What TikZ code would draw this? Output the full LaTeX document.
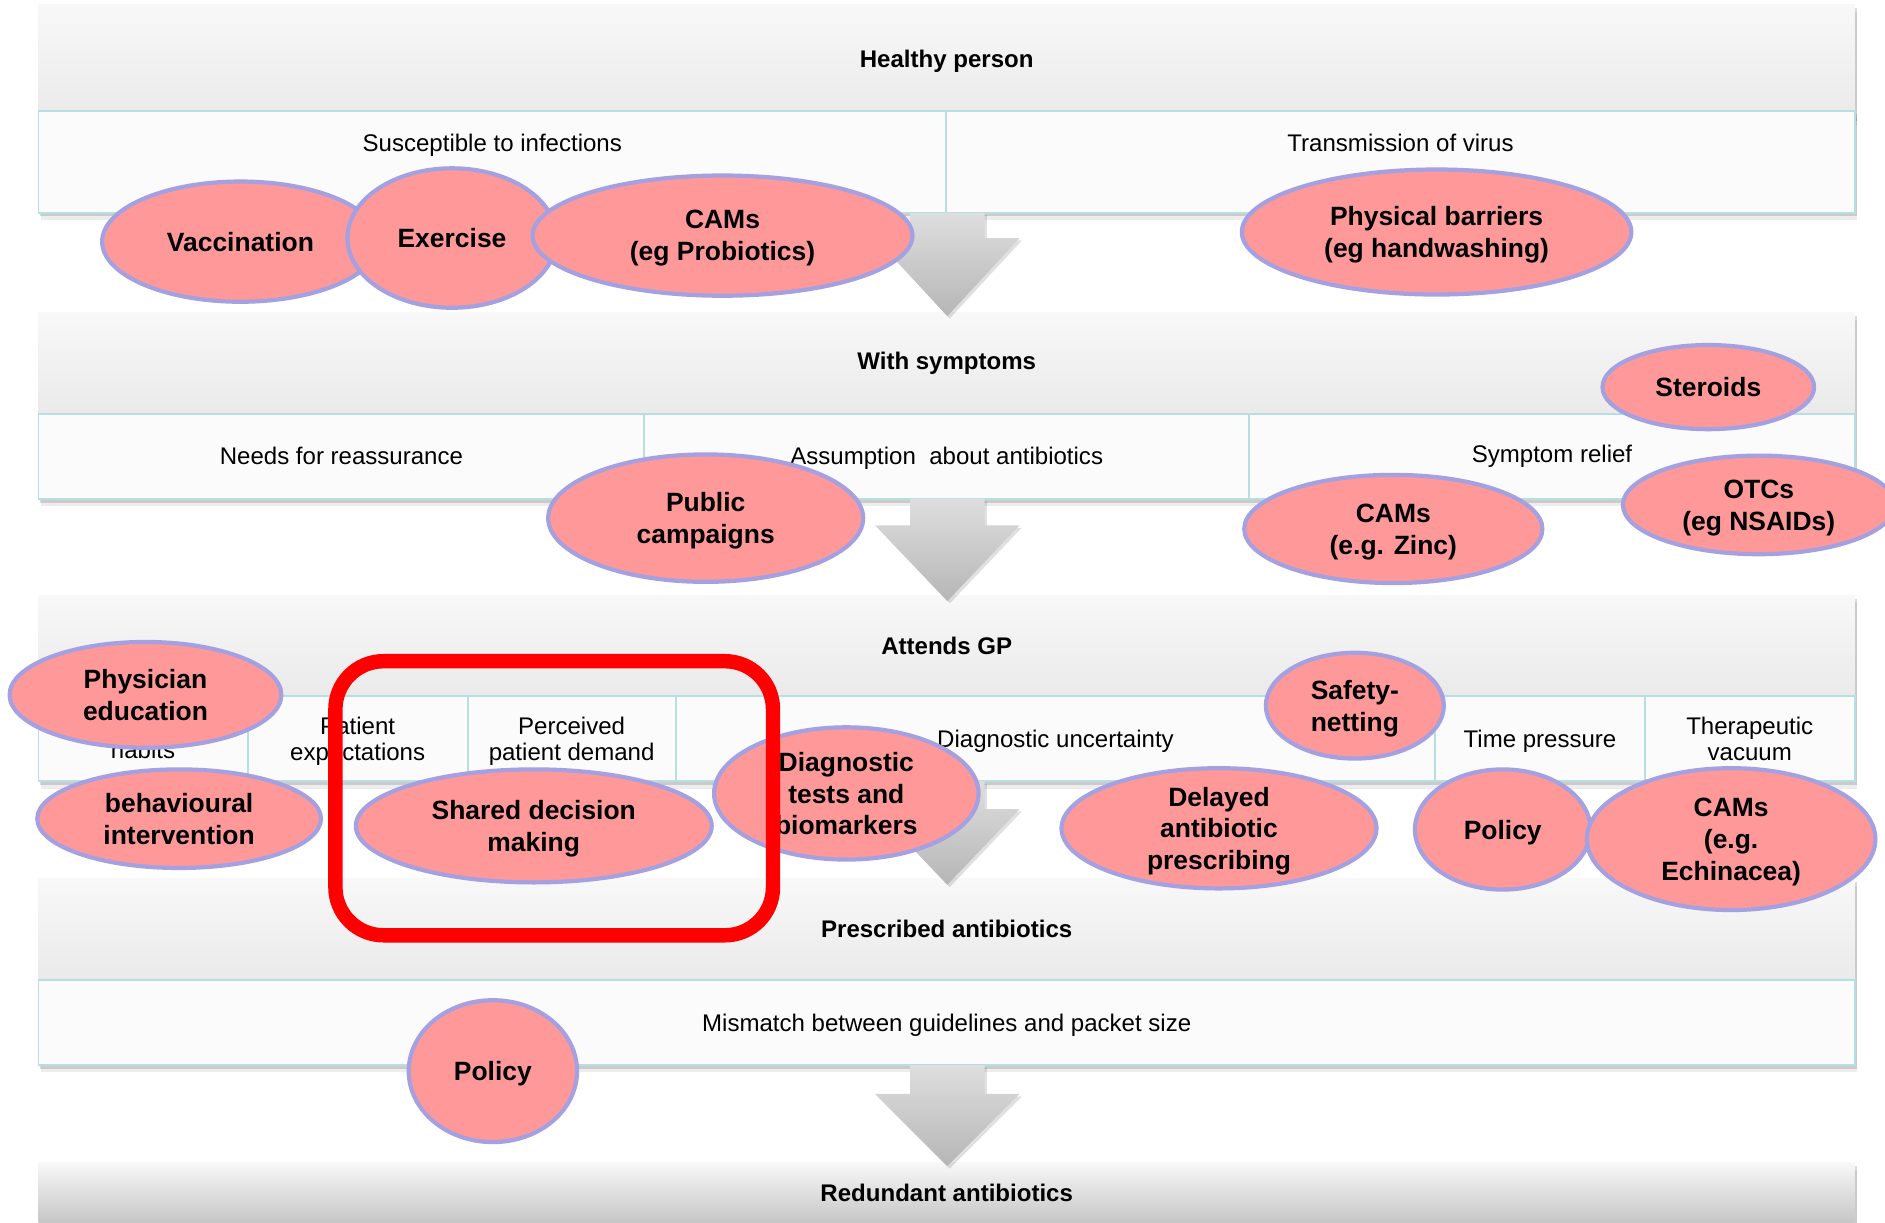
\documentclass[tikz,border=0pt]{standalone}
\usepackage{fontspec}
\setmainfont{Liberation Sans}
\usetikzlibrary{shapes.geometric,shadows,positioning}

\definecolor{bandtop}{HTML}{F8F8F8}
\definecolor{bandbot}{HTML}{EAEAEA}
\definecolor{lastbot}{HTML}{C6C6C6}
\definecolor{cellfill}{HTML}{FBFBFB}
\definecolor{cellline}{HTML}{B7DEE1}
\definecolor{ovalfill}{HTML}{FF9999}
\definecolor{ovalline}{HTML}{A5A0E0}
\definecolor{arrowtop}{HTML}{DEDEDE}
\definecolor{arrowbot}{HTML}{B6B6B6}

\tikzset{
    softshadow/.style={
        drop shadow={shadow xshift=1.5pt, shadow yshift=-3pt, fill=black, opacity=.14},
        drop shadow={shadow xshift=2pt, shadow yshift=-6pt, fill=black, opacity=.07}
    },
    head/.style={rectangle, top color=bandtop, bottom color=bandbot, softshadow,
        minimum width=1511, inner sep=0pt, font=\fontsize{20}{21}\selectfont\bfseries},
    cell/.style={rectangle, draw=cellline, line width=1.6pt, fill=cellfill, softshadow,
        inner sep=0pt},
    lbl/.style={align=center, inner sep=0pt, text depth=0pt,
        font=\fontsize{20}{21}\selectfont},
    oval/.style 2 args={ellipse, draw=ovalline, fill=ovalfill, line width=3.5pt,
        inner sep=0pt, align=center, text depth=0pt, minimum width=#1, minimum height=#2,
        font=\fontsize{22}{26.5}\selectfont\bfseries},
    arrowbody/.style={top color=arrowtop, bottom color=arrowbot,
        drop shadow={shadow xshift=2pt, shadow yshift=-2pt, fill=black, opacity=.12}},
    focusbox/.style={draw=red, line width=12pt, rounded corners=40pt, inner sep=0pt}
}

\begin{document}
\begin{tikzpicture}[x=1pt, y=-1pt]
\useasboundingbox (0,0) rectangle (1568,1017);
\clip (0,0) rectangle (1568,1017);
\fill[white] (0,0) rectangle (1568,1017);

% healthy person
\node[head, minimum height=94] (h1) at (787.5,51) {Healthy person};
\node[cell, minimum width=755, minimum height=85] (c1a) at (409.5,134.5) {};
\node[cell, minimum width=756, minimum height=85] (c1b) at (1165,134.5) {};
\node[lbl] (t1a) at ([yshift=15.5pt]c1a.center) {Susceptible to infections};
\node[lbl] (t1b) at ([yshift=15.5pt]c1b.center) {Transmission of virus};

% with symptoms
\node[head, minimum height=84] (h2) at (787.5,302) {With symptoms};
\node[cell, minimum width=504, minimum height=71] (c2a) at (284,379.5) {};
\node[cell, minimum width=503, minimum height=71] (c2b) at (787.5,379.5) {};
\node[cell, minimum width=504, minimum height=71] (c2c) at (1291,379.5) {};
\node[lbl] (t2a) at (c2a) {Needs for reassurance};
\node[lbl] (t2b) at (c2b) {Assumption\ \ about antibiotics};
\node[lbl] (t2c) at ([yshift=2pt]c2c.center) {Symptom relief};

% attends GP
\node[head, minimum height=84] (h3) at (787.5,537) {Attends GP};
\node[cell, minimum width=174, minimum height=71] (c3a) at (119,614.5) {};
\node[cell, minimum width=183, minimum height=71] (c3b) at (297.5,614.5) {};
\node[cell, minimum width=173, minimum height=71] (c3c) at (475.5,614.5) {};
\node[cell, minimum width=632, minimum height=71] (c3d) at (878,614.5) {};
\node[cell, minimum width=174, minimum height=71] (c3e) at (1281,614.5) {};
\node[cell, minimum width=175, minimum height=71] (c3f) at (1455.5,614.5) {};
\node[lbl] (t3a) at ([yshift=-9pt]c3a.center) {habits};
\node[lbl] (t3b) at (c3b) {Patient\\expectations};
\node[lbl] (t3c) at (c3c) {Perceived\\patient demand};
\node[lbl] (t3d) at (c3d) {Diagnostic uncertainty};
\node[lbl] (t3e) at (c3e) {Time pressure};
\node[lbl] (t3f) at (c3f) {Therapeutic\\vacuum};

% prescribed antibiotics
\node[head, minimum height=84] (h4) at (787.5,773) {Prescribed antibiotics};
\node[cell, minimum width=1511, minimum height=71] (c4a) at (787.5,850.5) {};
\node[lbl] (t4a) at (c4a) {Mismatch between guidelines and packet size};

% redundant antibiotics
\node[head, minimum height=50, bottom color=lastbot] (h5) at (787.5,992) {Redundant antibiotics};

% arrows between the stages
\foreach \t/\h/\p in {177/198/263, 415/437/500, 650/673/736, 886/910/970}
    \shade[arrowbody] (757,\t) -- (819,\t) -- (819,\h) -- (848,\h) -- (788,\p)
        -- (728,\h) -- (757,\h) -- cycle;

% interventions
\node[oval={230}{100}] (vacc) at (200,201) {Vaccination};
\node[oval={174}{116}] (exer) at (376,198) {Exercise};
\node[oval={316}{100}] (camp) at (601,196) {CAMs\\(eg Probiotics)};
\node[oval={324}{104}] (phys) at (1195,193) {Physical barriers\\(eg handwashing)};
\node[oval={176}{70}] (ster) at (1421,322) {Steroids};
\node[oval={262}{106}] (pubc) at (587,431) {Public\\campaigns};
\node[oval={248}{90}] (camz) at (1159,440) {CAMs\\(e.g. Zinc)};
\node[oval={226}{82}] (otcs) at (1463,420) {OTCs\\(eg NSAIDs)};
\node[oval={226}{88}] (phed) at (121,578) {Physician\\education};
\node[oval={236}{82}] (behv) at (149,681) {behavioural\\intervention};
\node[oval={296}{94}] (shdm) at (444,687) {Shared decision\\making};
\node[oval={220}{110}] (diag) at (704,660) {Diagnostic\\tests and\\biomarkers};
\node[oval={148}{88}] (safe) at (1127,587) {Safety-\\netting};
\node[oval={262}{100}] (dlay) at (1014,689) {Delayed\\antibiotic\\prescribing};
\node[oval={146}{100}] (polgp) at (1250,690) {Policy};
\node[oval={240}{118}] (came) at (1440,698) {CAMs\\(e.g.\\Echinacea)};
\node[oval={140}{118}] (polrx) at (410,891) {Policy};

% highlight
\node[focusbox, minimum width=364, minimum height=228] (focus) at (461,664) {};
\end{tikzpicture}
\end{document}
